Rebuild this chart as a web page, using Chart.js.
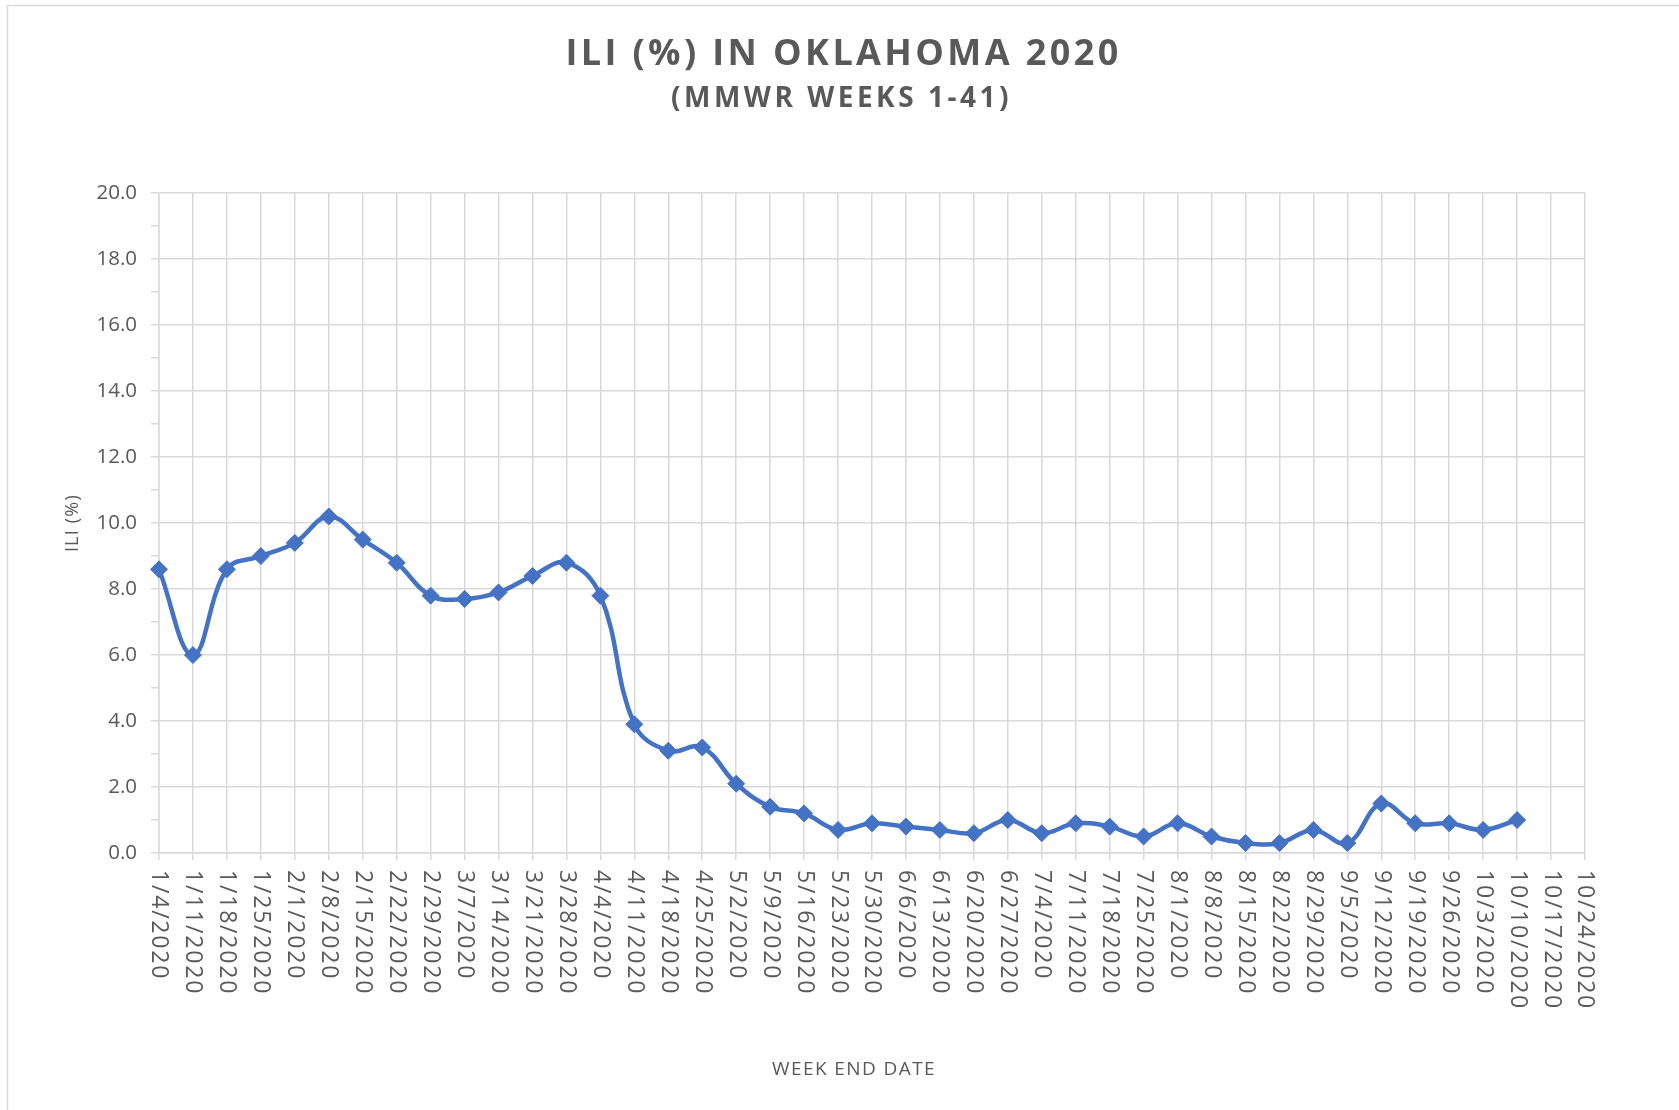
<!DOCTYPE html>
<html>
<head>
<meta charset="utf-8">
<script src="https://cdn.jsdelivr.net/npm/chart.js@4.4.1/dist/chart.umd.min.js"></script>
<style>
  html, body { margin: 0; padding: 0; background: #ffffff; overflow: hidden; }
  #wrap { width: 1679px; height: 1110px; position: relative; }
</style>
</head>
<body>
<div id="wrap"><canvas id="c" width="1679" height="1110"></canvas></div>
<script>
// ---- Data ----
const chartTitle = 'ILI (%) IN OKLAHOMA 2020';
const chartSubtitle = '(MMWR WEEKS 1-41)';
const yAxisTitle = 'ILI (%)';
const xAxisTitle = 'WEEK END DATE';

const weekEndDates = [
  '1/4/2020', '1/11/2020', '1/18/2020', '1/25/2020', '2/1/2020', '2/8/2020', '2/15/2020',
  '2/22/2020', '2/29/2020', '3/7/2020', '3/14/2020', '3/21/2020', '3/28/2020', '4/4/2020',
  '4/11/2020', '4/18/2020', '4/25/2020', '5/2/2020', '5/9/2020', '5/16/2020', '5/23/2020',
  '5/30/2020', '6/6/2020', '6/13/2020', '6/20/2020', '6/27/2020', '7/4/2020', '7/11/2020',
  '7/18/2020', '7/25/2020', '8/1/2020', '8/8/2020', '8/15/2020', '8/22/2020', '8/29/2020',
  '9/5/2020', '9/12/2020', '9/19/2020', '9/26/2020', '10/3/2020', '10/10/2020', '10/17/2020',
  '10/24/2020'
];

const iliPercent = [
  8.6, 6.0, 8.6, 9.0, 9.4, 10.2, 9.5,
  8.8, 7.8, 7.7, 7.9, 8.4, 8.8, 7.8,
  3.9, 3.1, 3.2, 2.1, 1.4, 1.2, 0.7,
  0.9, 0.8, 0.7, 0.6, 1.0, 0.6, 0.9,
  0.8, 0.5, 0.9, 0.5, 0.3, 0.3, 0.7,
  0.3, 1.5, 0.9, 0.9, 0.7, 1.0, null,
  null
];

const yAxisMin = 0;
const yAxisMax = 20;
const yMinorStep = 1;
const yMajorStep = 2;

// ---- Styling helpers ----
const textGray = '#595959';
const gridGray = '#D9D9D9';
const lineBlue = '#4472C4';

function wrapDraw(obj, method, spacing, dxFn) {
  if (obj['__w_' + method]) return;
  const orig = obj[method];
  obj[method] = function (...args) {
    const c = this.ctx;
    const prev = c.letterSpacing;
    c.save();
    if (dxFn) c.translate(dxFn(this), 0);
    c.letterSpacing = spacing;
    try { return orig.apply(this, args); } finally { c.restore(); c.letterSpacing = prev; }
  };
  obj['__w_' + method] = true;
}

const stylePlugin = {
  id: 'stylePlugin',
  beforeDraw(chart) {
    const ctx = chart.ctx;
    // outer chart frame
    ctx.save();
    ctx.strokeStyle = gridGray;
    ctx.lineWidth = 1.5;
    ctx.strokeRect(7.5, 5.5, 3000, 3000);
    ctx.restore();

    const titleCenter = chart.width / 2 + 4;
    chart.boxes.forEach(b => {
      if (b.options && b.options.text === chartTitle)
        wrapDraw(b, 'draw', '3.4px', (box) => titleCenter - (box.left + box.right) / 2);
      if (b.options && b.options.text === chartSubtitle)
        wrapDraw(b, 'draw', '3.5px', (box) => titleCenter - 2 - (box.left + box.right) / 2);
    });

    const ys = chart.scales.y;
    wrapDraw(ys, 'drawTitle', '1.2px');
    const xs = chart.scales.x;
    wrapDraw(xs, 'drawTitle', '1.4px', (s) => -(s.right - s.left) * 0.0126);
    if (!xs.__customLabels) {
      xs.drawLabels = function () {
        const c = this.ctx;
        const tickOpts = this.options.ticks;
        c.save();
        c.font = Chart.helpers.toFont(tickOpts.font).string;
        c.fillStyle = tickOpts.color;
        c.letterSpacing = '1.8px';
        c.textAlign = 'left';
        c.textBaseline = 'middle';
        this.ticks.forEach((t, i) => {
          const px = this.getPixelForTick(i);
          c.save();
          c.translate(px, this.top + 17);
          c.rotate(Math.PI / 2);
          c.fillText(String(this.getLabelForValue(t.value)), 0, 0);
          c.restore();
        });
        c.restore();
      };
      xs.__customLabels = true;
    }
  }
};

new Chart(document.getElementById('c'), {
  type: 'line',
  data: {
    labels: weekEndDates,
    datasets: [{
      label: yAxisTitle,
      data: iliPercent,
      borderColor: lineBlue,
      backgroundColor: lineBlue,
      borderWidth: 4.5,
      tension: 0.4,
      fill: false,
      pointStyle: 'rectRot',
      pointRadius: 8.5,
      pointHoverRadius: 8.5,
      pointBorderWidth: 1,
      pointBackgroundColor: lineBlue,
      pointBorderColor: lineBlue
    }]
  },
  options: {
    responsive: false,
    animation: false,
    devicePixelRatio: 1,
    layout: { padding: { left: 8, right: 94, top: 0, bottom: 10 } },
    plugins: {
      legend: { display: false },
      tooltip: { enabled: false },
      title: {
        display: true,
        text: chartTitle,
        color: textGray,
        font: { family: 'Open Sans', size: 36, weight: 'bold' },
        padding: { top: 33, bottom: 0 }
      },
      subtitle: {
        display: true,
        text: chartSubtitle,
        color: textGray,
        font: { family: 'Open Sans', size: 28, weight: 'bold' },
        padding: { top: 6.2, bottom: 77.2 }
      }
    },
    scales: {
      x: {
        type: 'category',
        offset: false,
        grid: { color: gridGray, lineWidth: 1.5, tickLength: 7, tickColor: gridGray },
        border: { color: gridGray, width: 1.5 },
        ticks: {
          autoSkip: false, maxRotation: 90, minRotation: 90,
          color: textGray, font: { family: 'Open Sans', size: 23 }
        },
        title: {
          display: true, text: xAxisTitle, color: textGray,
          font: { family: 'Open Sans', size: 19 },
          padding: { top: 0, bottom: 19 }
        },
        afterFit: (s) => { s.height = 247; }
      },
      y: {
        min: yAxisMin,
        max: yAxisMax,
        grid: {
          color: (c) => (c.tick && c.tick.value % yMajorStep === 0) ? gridGray : 'rgba(0,0,0,0)',
          lineWidth: 1.5,
          tickLength: 8,
          tickColor: gridGray
        },
        border: { color: gridGray, width: 1.5 },
        ticks: {
          stepSize: yMinorStep,
          autoSkip: false,
          padding: 14,
          color: textGray,
          font: { family: 'Open Sans', size: 20.5 },
          callback: (v) => (v % yMajorStep === 0) ? Number(v).toFixed(1) : ''
        },
        title: {
          display: true, text: yAxisTitle, color: textGray,
          font: { family: 'Open Sans', size: 18 },
          padding: { top: 54, bottom: 0 }
        },
        afterFit: (s) => { s.width = 151; }
      }
    }
  },
  plugins: [stylePlugin]
});
</script>
</body>
</html>
